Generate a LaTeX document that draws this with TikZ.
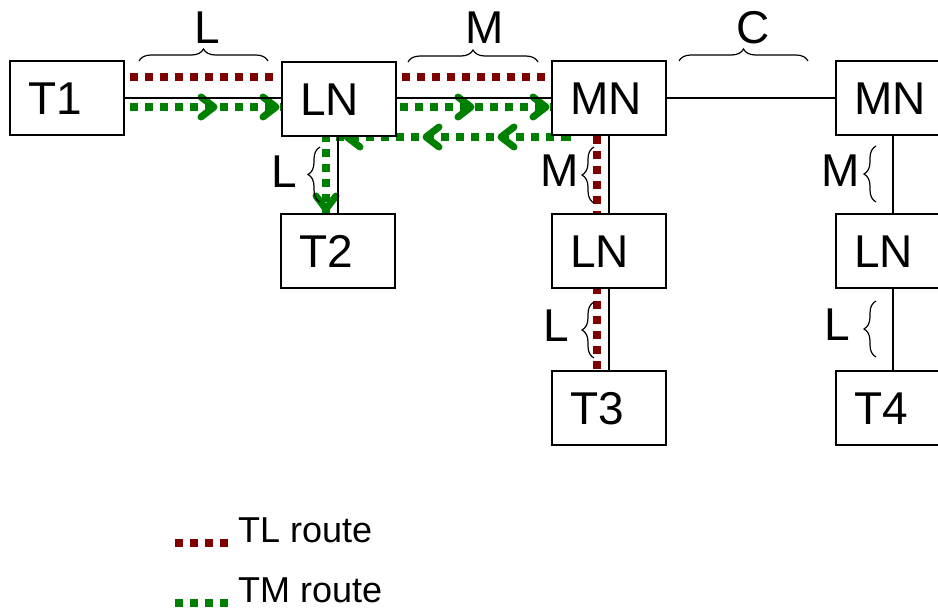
\documentclass[tikz,border=0pt]{standalone}
\usepackage{fontspec}
\setmainfont{Liberation Sans}
\usetikzlibrary{decorations.pathreplacing}
\definecolor{tlred}{RGB}{128,0,0}
\definecolor{tmgreen}{RGB}{0,128,0}
\begin{document}
\begin{tikzpicture}[x=1pt,y=-1pt,
  box/.style={draw, line width=1.4pt, fill=white, minimum width=114pt, minimum height=74pt,
    inner xsep=18pt, inner ysep=0pt, text width=78pt, align=left,
    font=\fontsize{46}{50}\selectfont, text height=33pt, text depth=0pt},
  lbl/.style={inner sep=0pt, font=\fontsize{46}{50}\selectfont, text height=33pt, text depth=0pt},
  legtext/.style={inner sep=0pt, anchor=base west, font=\fontsize{36}{40}\selectfont},
  link/.style={line width=1.4pt},
  route/.style={line width=8pt, dash pattern=on 8pt off 7pt},
  tl/.style={route, tlred},
  tm/.style={route, tmgreen},
  brc/.style={line width=1.2pt, decorate, decoration={brace, amplitude=12pt}},
  chev/.pic={\draw[tmgreen, line width=7pt, line cap=round, line join=round]
     (-13pt,10pt) -- (0,0) -- (-13pt,-10pt);}
]
\useasboundingbox (0,0) rectangle (938,608);
\clip (0,0) rectangle (938,608);

% route coordinates
\coordinate (r0) at (130,77);
\coordinate (r0e) at (275,77);
\coordinate (r1s) at (402,77);
\coordinate (r1e) at (547,77);
\coordinate (r2s) at (597,136);
\coordinate (r2) at (597,370);
\coordinate (g0) at (130,107);
\coordinate (g1) at (567,107);
\coordinate (g2) at (567,137);
\coordinate (g3) at (326,137);
\coordinate (g4) at (326,214);

% routes
\draw[tl] (r0) -- (r0e);
\draw[tl] (r1s) -- (r1e);
\draw[tl] (r2s) -- (r2);
\draw[tm] (g0) -- (g1) -- (g2) -- (g3) -- (g4);
\pic at (214,107) {chev};
\pic at (276,107) {chev};
\pic at (471,107) {chev};
\pic at (546,107) {chev};
\pic[rotate=180] at (501,137) {chev};
\pic[rotate=180] at (426,137) {chev};
\pic[rotate=180] at (347,137) {chev};
\pic[rotate=-90] at (326,209) {chev};

% boxes
\path (67,98) node[box] (T1) {T1}
      (339,99) node[box] (LN1) {LN}
      (609,98) node[box] (MN1) {MN}
      (893,98) node[box] (MN2) {MN}
      (338,251) node[box] (T2) {T2}
      (609,251) node[box] (LN2) {LN}
      (609,408) node[box] (T3) {T3}
      (893,251) node[box] (LN3) {LN}
      (893,408) node[box] (T4) {T4};

% connectors
\draw[link] (T1.east) -- (T1.east -| LN1.west);
\draw[link] (LN1.east |- MN1.west) -- (MN1.west);
\draw[link] (MN1.east) -- (MN2.west);
\draw[link] (T2.north |- LN1.south) -- (T2.north);
\draw[link] (MN1.south) -- (LN2.north);
\draw[link] (LN2.south) -- (T3.north);
\draw[link] (MN2.south) -- (LN3.north);
\draw[link] (LN3.south) -- (T4.north);

% braces
\draw[brc] (139,61) -- (268,61);
\draw[brc] (408,62) -- (538,62);
\draw[brc] (679,61) -- (808,61);
\draw[brc] (320,202) -- (320,147);
\draw[brc] (594,203) -- (594,147);
\draw[brc] (594,358) -- (594,302);
\draw[brc] (876,202) -- (876,146);
\draw[brc] (876,357) -- (876,301);

% labels
\node[lbl] (lL1) at (207,27) {L};
\node[lbl] (lM1) at (485,27) {M};
\node[lbl] (lC)  at (753,27) {C};
\node[lbl] (lL2) at (284,171) {L};
\node[lbl] (lM2) at (560,170) {M};
\node[lbl] (lL3) at (556,325) {L};
\node[lbl] (lM3) at (841,170) {M};
\node[lbl] (lL4) at (837,324) {L};

% legend
\node[legtext] (legTL) at (238,542) {TL route};
\node[legtext] (legTM) at (238,602) {TM route};
\draw[tl] (175,543) -- (230,543);
\draw[tm] (175,603) -- (230,603);
\end{tikzpicture}
\end{document}
